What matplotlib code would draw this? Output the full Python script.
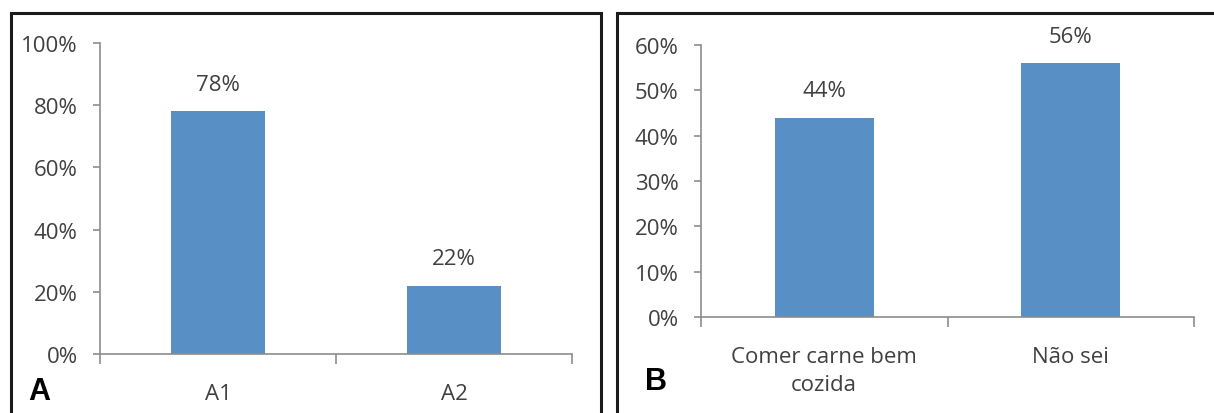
import matplotlib
matplotlib.use("Agg")
import matplotlib.pyplot as plt
from matplotlib.lines import Line2D
from matplotlib.ticker import PercentFormatter, FixedLocator

plt.rcParams['font.family'] = ['Open Sans', 'DejaVu Sans']

# Panel A data
cats_a = ["A1", "A2"]
vals_a = [0.78, 0.22]
labels_a = ["78%", "22%"]

# Panel B data
cats_b = ["Comer carne bem\ncozida", "Não sei"]
vals_b = [0.44, 0.56]
labels_b = ["44%", "56%"]

W, H = 1214, 414
fig = plt.figure(figsize=(W / 100, H / 100), dpi=100)

BAR = "#5890C6"
TXT = "#404040"
AXC = "#8C8C8C"
FS = 16


def px_axes(x0, x1, y0, y1):
    return fig.add_axes([x0 / W, 1 - y1 / H, (x1 - x0) / W, (y1 - y0) / H])


def style(ax, cats, vals, labels, ymax, ystep):
    x = range(len(cats))
    ax.bar(x, vals, width=0.4, color=BAR, zorder=2)
    for xi, v, t in zip(x, vals, labels):
        ax.annotate(t, (xi, v), xytext=(0, 19.5), textcoords="offset points",
                    ha="center", va="center", fontsize=FS, color=TXT)
    ax.set_xlim(-0.5, len(cats) - 0.5)
    ax.set_ylim(0, ymax)
    ticks = [i * ystep for i in range(int(round(ymax / ystep)) + 1)]
    ax.set_yticks(ticks)
    ax.yaxis.set_major_formatter(PercentFormatter(1.0, decimals=0))
    ax.set_xticks(list(x))
    ax.set_xticklabels(cats, linespacing=1.4)
    ax.xaxis.set_minor_locator(FixedLocator([-0.5 + i for i in range(len(cats) + 1)]))
    for s in ("top", "right"):
        ax.spines[s].set_visible(False)
    for s in ("left", "bottom"):
        ax.spines[s].set_color(AXC)
        ax.spines[s].set_linewidth(1.2)
    ax.tick_params(axis="y", length=5, color=AXC, width=1.2, labelsize=FS,
                   labelcolor=TXT, pad=11)
    ax.tick_params(axis="x", which="major", length=0, labelsize=FS,
                   labelcolor=TXT, pad=21)
    ax.tick_params(axis="x", which="minor", length=7, color=AXC, width=1.2)
    ax.patch.set_alpha(0)


ax_a = px_axes(100, 572, 44, 355)
style(ax_a, cats_a, vals_a, labels_a, 1.0, 0.2)

ax_b = px_axes(701, 1194, 46, 318)
style(ax_b, cats_b, vals_b, labels_b, 0.6, 0.1)


def fig_line(xs, ys, lw=2.2):
    fig.add_artist(Line2D([v / W for v in xs], [1 - v / H for v in ys],
                          transform=fig.transFigure, color="#1a1a1a", lw=lw,
                          solid_joinstyle="miter", solid_capstyle="butt"))


# Panel frames
fig_line([11, 11, 601, 601], [420, 14, 14, 420])
fig_line([617, 617, 1220], [420, 14, 14])

fig.text(28 / W, 1 - 392 / H, "A", fontsize=22, fontweight="bold",
         family=["Liberation Sans", "DejaVu Sans"], va="center", ha="left")
fig.text(645 / W, 1 - 382 / H, "B", fontsize=22, fontweight="bold",
         family=["Liberation Sans", "DejaVu Sans"], va="center", ha="left")

fig.savefig("out.png", dpi=100, facecolor="white")
